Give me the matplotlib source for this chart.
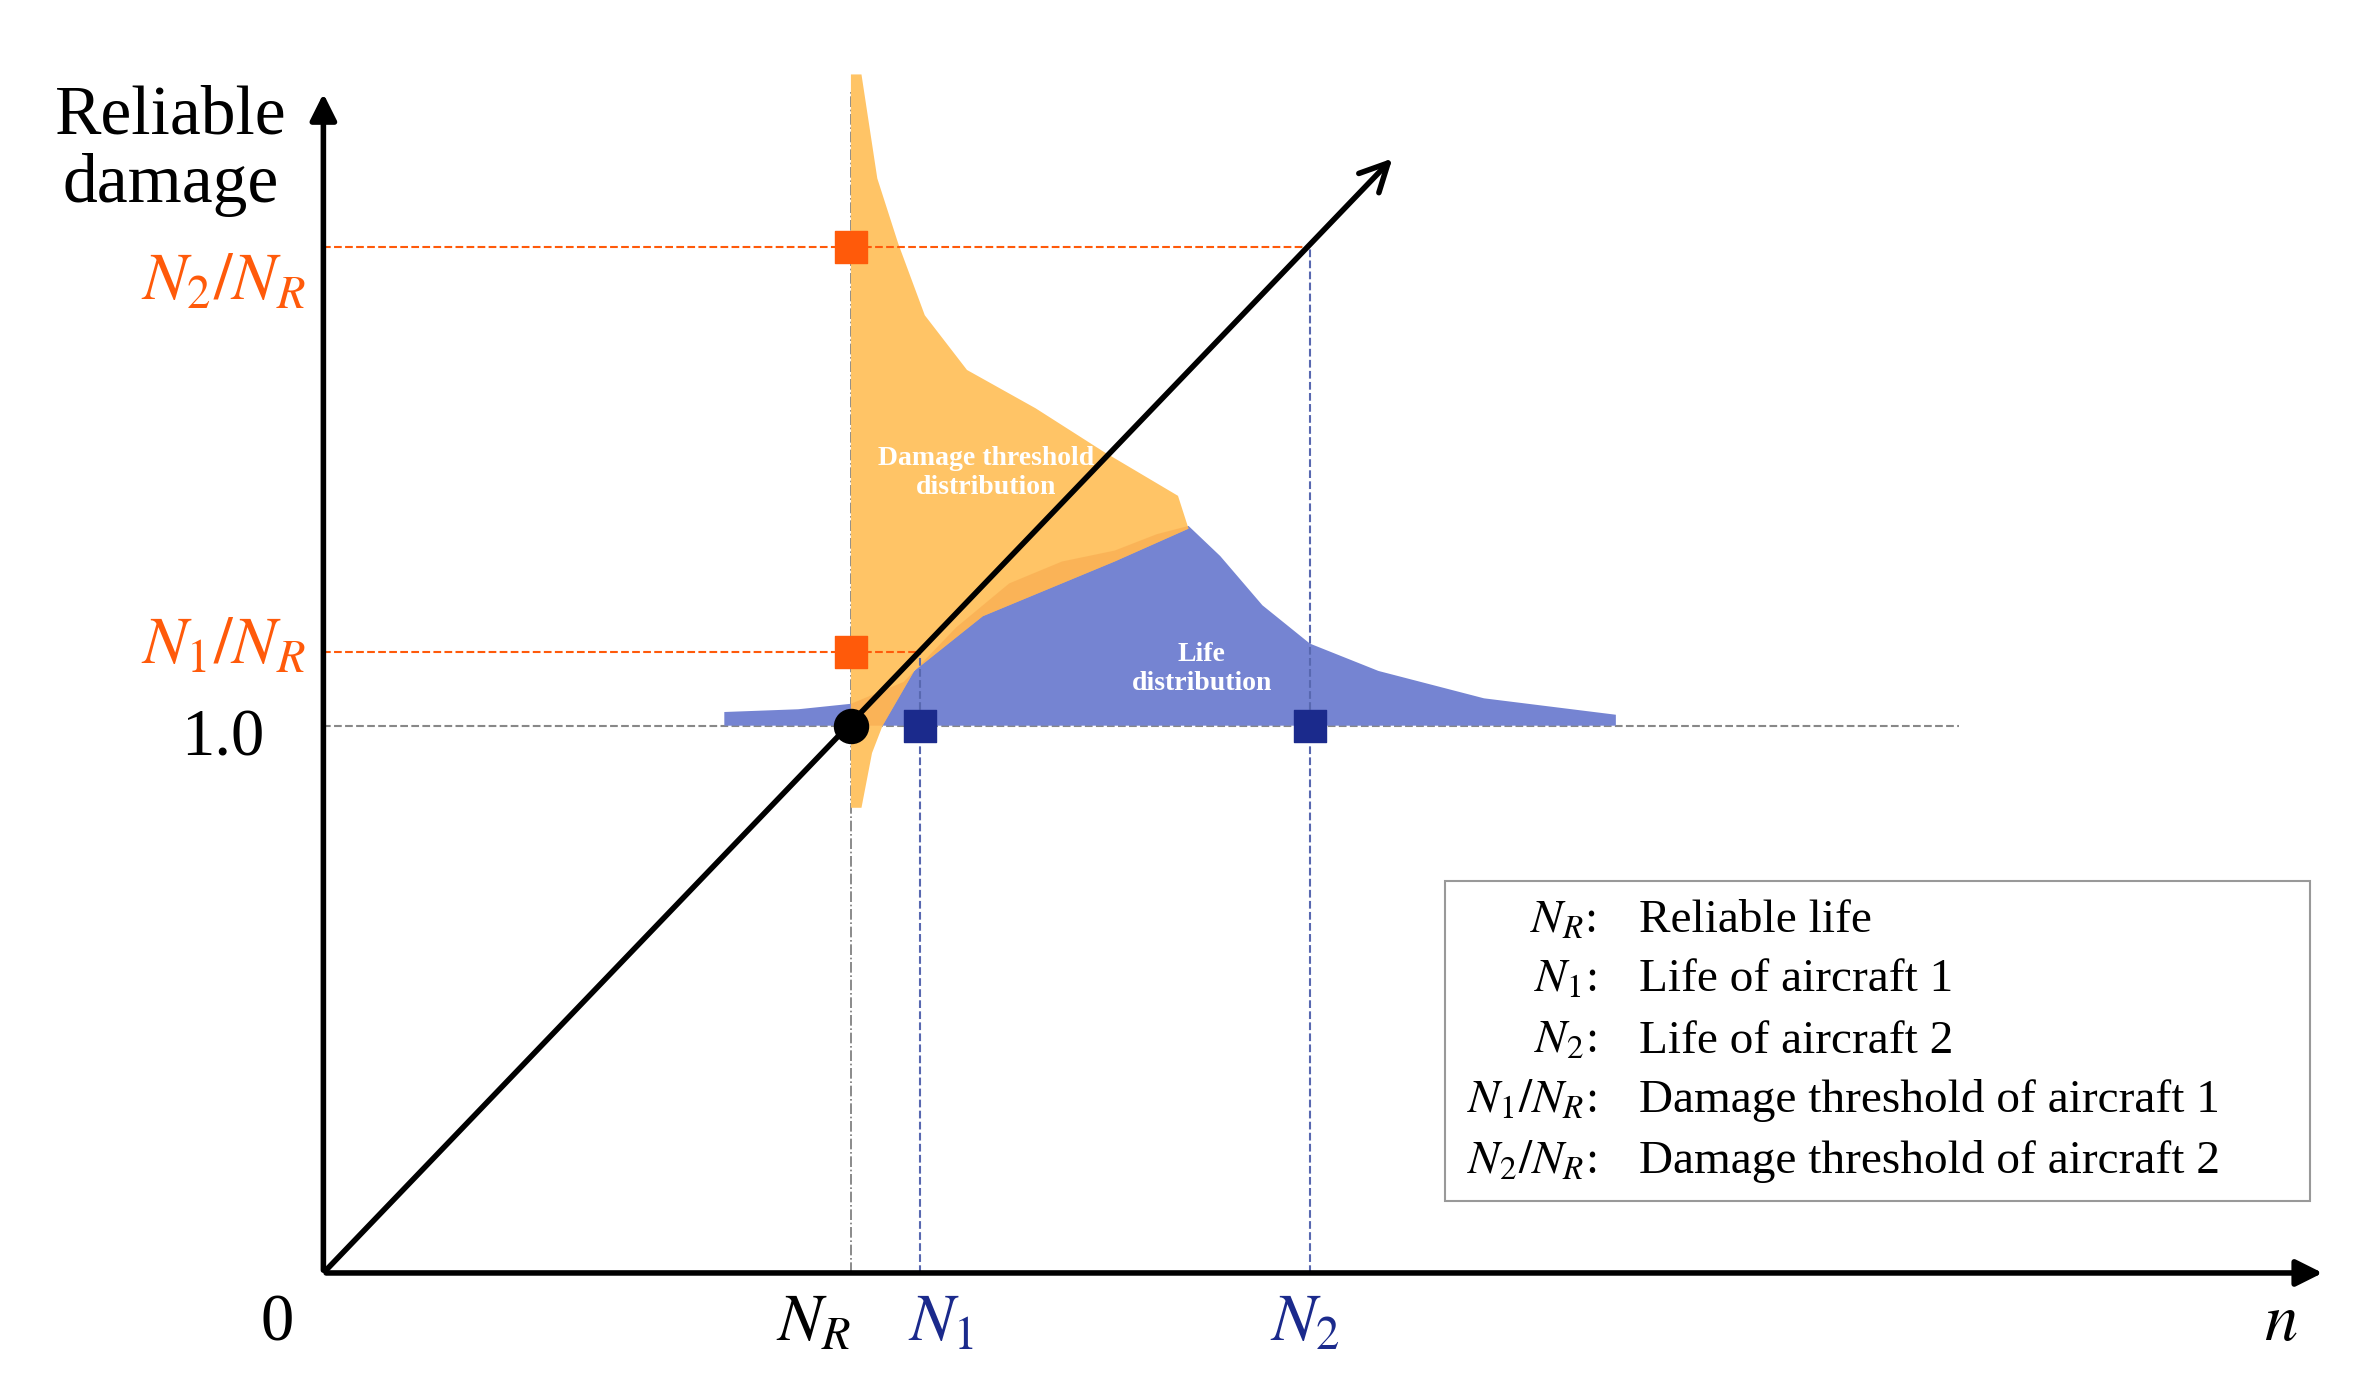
import matplotlib.pyplot as plt
from matplotlib.patches import Polygon, Rectangle

plt.rcParams['font.family'] = ['Liberation Serif', 'DejaVu Serif']
plt.rcParams['mathtext.fontset'] = 'stix'

# key values (NR normalised to 1)
NR = 1.0
N1 = 1.13
N2 = 1.87
d1 = 1.134   # N1/NR
d2 = 1.875   # N2/NR

# life distribution: x, height above damage 1.0
life_x = [0.76, 0.76, 0.90, 1.00, 1.10, 1.20, 1.30, 1.40, 1.50, 1.58, 1.64, 1.70, 1.78, 1.87, 2.00, 2.20, 2.45, 2.45]
life_h = [0.00, 0.025, 0.03, 0.04, 0.08, 0.18, 0.26, 0.30, 0.32, 0.35, 0.365, 0.31, 0.22, 0.15, 0.10, 0.05, 0.02, 0.00]

# damage threshold distribution: damage y, width beyond NR
thr_y = [0.85, 0.85, 0.95, 1.00, 1.10, 1.20, 1.30, 1.36, 1.42, 1.50, 1.58, 1.65, 1.75, 1.88, 2.00, 2.19, 2.19]
thr_w = [0.00, 0.02, 0.04, 0.06, 0.12, 0.25, 0.50, 0.64, 0.62, 0.48, 0.35, 0.22, 0.14, 0.09, 0.05, 0.02, 0.00]

legend_sym = ['$N_R$:', '$N_1$:', '$N_2$:', '$N_1/N_R$:', '$N_2/N_R$:']
legend_txt = ['Reliable life', 'Life of aircraft 1', 'Life of aircraft 2',
              'Damage threshold of aircraft 1', 'Damage threshold of aircraft 2']

orange_fill = '#FFC466'
blue_fill = '#7584D2'
orange_mark = '#FF5A0A'
navy = '#1B2A8C'

fig = plt.figure(figsize=(23.56, 13.95), dpi=100)
ax = fig.add_axes([0, 0, 1, 1])
ax.set_xlim(-0.613, 3.853)
ax.set_ylim(-0.223, 2.326)
ax.axis('off')

life_poly = list(zip(life_x, [1.0 + h for h in life_h]))
thr_poly = list(zip([NR + w for w in thr_w], thr_y))
ax.add_patch(Polygon(life_poly, closed=True, color=blue_fill, lw=0, zorder=1))
tp = Polygon(thr_poly, closed=True, color=orange_fill, lw=0, zorder=2)
ax.add_patch(tp)
ov = Polygon(life_poly, closed=True, color='#F8A94E', alpha=0.6, lw=0, zorder=3)
ax.add_patch(ov)
ov.set_clip_path(tp)

# guide lines
ax.plot([0, 3.1], [1, 1], ls='--', color='#888888', lw=1.5, zorder=0)
ax.plot([0, N1], [d1, d1], ls='--', color=orange_mark, lw=1.5, zorder=4)
ax.plot([0, N2], [d2, d2], ls='--', color=orange_mark, lw=1.5, zorder=4)
ax.plot([NR, NR], [0, 2.16], ls='-.', color='#777777', lw=1.2, zorder=0)
ax.plot([N1, N1], [0, d1], ls='--', color='#5868B0', lw=1.5, zorder=4)
ax.plot([N2, N2], [0, d2], ls='--', color='#5868B0', lw=1.5, zorder=4)

# axes and diagonal
arrow = dict(arrowstyle='-|>', color='black', lw=4, mutation_scale=40)
ax.annotate('', xy=(3.795, 0), xytext=(0, 0), arrowprops=arrow, zorder=5)
ax.annotate('', xy=(0, 2.16), xytext=(0, 0), arrowprops=arrow, zorder=5)
ax.annotate('', xy=(2.03, 2.04), xytext=(0, 0),
            arrowprops=dict(arrowstyle='->', color='black', lw=4, mutation_scale=50), zorder=5)

# markers
ax.scatter([NR, NR], [d1, d2], marker='s', s=500, color=orange_mark, zorder=6)
ax.scatter([N1, N2], [1, 1], marker='s', s=500, color=navy, zorder=6)
ax.scatter([NR], [1], marker='o', s=600, color='black', zorder=7)

# labels
ax.text(-0.29, 2.05, 'Reliable\ndamage', fontsize=50, ha='center', va='center', linespacing=1.1)
ax.text(-0.087, -0.093, '0', fontsize=48, ha='center', va='center')
ax.text(-0.19, 0.975, '1.0', fontsize=48, ha='center', va='center')
ax.text(-0.19, d2 - 0.065, '$N_2/N_R$', fontsize=48, ha='center', va='center', color=orange_mark)
ax.text(-0.19, d1 + 0.01, '$N_1/N_R$', fontsize=48, ha='center', va='center', color=orange_mark)
ax.text(0.93, -0.093, '$N_R$', fontsize=48, ha='center', va='center')
ax.text(1.17, -0.093, '$N_1$', fontsize=48, ha='center', va='center', color=navy)
ax.text(1.86, -0.093, '$N_2$', fontsize=48, ha='center', va='center', color=navy)
ax.text(3.71, -0.093, '$n$', fontsize=48, ha='center', va='center')
ax.text(1.257, 1.462, 'Damage threshold\ndistribution', fontsize=20, fontweight='bold',
        color='white', ha='center', va='center', zorder=8)
ax.text(1.665, 1.103, 'Life\ndistribution', fontsize=20, fontweight='bold',
        color='white', ha='center', va='center', zorder=8)

# legend box
ax.add_patch(Rectangle((2.127, 0.131), 3.766 - 2.127, 0.716 - 0.131,
                       fill=False, edgecolor='#999999', lw=1.5, zorder=5))
rows = [0.643, 0.535, 0.423, 0.315, 0.203]
for y, s, t in zip(rows, legend_sym, legend_txt):
    ax.text(2.413, y, s, fontsize=34, ha='right', va='center')
    ax.text(2.494, y, t, fontsize=34, ha='left', va='center')

fig.savefig('out.png', dpi=100)
